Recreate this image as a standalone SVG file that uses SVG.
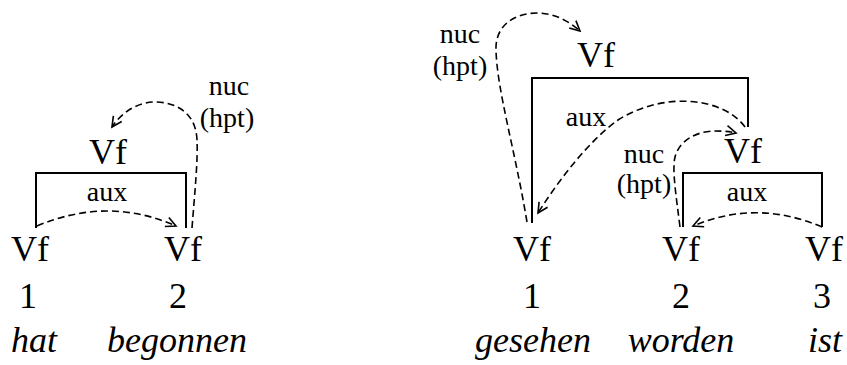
<svg xmlns="http://www.w3.org/2000/svg" width="847" height="365" viewBox="0 0 847 365">
<style>
text{font-family:"Liberation Serif","Times New Roman",serif;fill:#000;text-anchor:middle}
.big{font-size:36px}
.sm{font-size:28px}
.it{font-style:italic}
.br{fill:none;stroke:#000;stroke-width:2}
.dep{fill:none;stroke:#000;stroke-width:1.6;stroke-dasharray:7 4}
</style>
<defs>
<marker id="ah" markerUnits="userSpaceOnUse" viewBox="-12 -7 14 14" markerWidth="14" markerHeight="14" refX="0" refY="0" orient="auto">
<path d="M-10,-5 L0,0 L-10,5" fill="none" stroke="#000" stroke-width="1.6"/>
</marker>
</defs>
<rect width="847" height="365" fill="#fff"/>

<!-- left tree -->
<g id="L-vf-top">
<text class="big" x="108" y="164">Vf</text>
<path class="br" d="M36,228 V173 H186 V228"/>
</g>
<g id="L-w1">
<text class="big" x="30" y="261">Vf</text>
<text class="big" x="28" y="308">1</text>
<text class="big it" x="34" y="352">hat</text>
</g>
<g id="L-w2">
<text class="big" x="183" y="261">Vf</text>
<text class="big" x="178" y="308">2</text>
<text class="big it" x="177" y="352">begonnen</text>
</g>

<!-- right tree -->
<g id="R-vf-top">
<text class="big" x="596" y="67">Vf</text>
<path class="br" d="M532,223 V78 H748 V127"/>
</g>
<g id="R-vf-mid">
<text class="big" x="743" y="163">Vf</text>
<path class="br" d="M683,227 V173 H822 V227"/>
</g>
<g id="R-w1">
<text class="big" x="532" y="261">Vf</text>
<text class="big" x="532" y="308">1</text>
<text class="big it" x="533" y="352">gesehen</text>
</g>
<g id="R-w2">
<text class="big" x="681" y="261">Vf</text>
<text class="big" x="681" y="308">2</text>
<text class="big it" x="681" y="352">worden</text>
</g>
<g id="R-w3">
<text class="big" x="824" y="261">Vf</text>
<text class="big" x="822" y="308">3</text>
<text class="big it" x="825" y="352">ist</text>
</g>

<g id="connectors">
<path class="dep" d="M37,226 Q108,196 176,226" marker-end="url(#ah)"/>
<text class="sm" x="107" y="201">aux</text>
<path class="dep" d="M192,228 C195,190 198,160 197,140 C196,112 175,102 155,102 C138,102 122,112 112,127" marker-end="url(#ah)"/>
<text class="sm" x="229" y="95">nuc</text>
<text class="sm" x="227" y="127">(hpt)</text>

<path class="dep" d="M527,222 C515,150 497,90 496,50 C495,25 515,13 537,13 C555,13 570,22 580,31" marker-end="url(#ah)"/>
<text class="sm" x="460" y="43">nuc</text>
<text class="sm" x="460" y="75">(hpt)</text>
<path class="dep" d="M745,127 C722,96 662,92 618,120 C590,140 560,178 538,213" marker-end="url(#ah)"/>
<text class="sm" x="586" y="126">aux</text>
<path class="dep" d="M680,227 C676,195 672,170 675,157 C680,138 700,131 715,131 C725,131 732,132 736,133" marker-end="url(#ah)"/>
<text class="sm" x="644" y="163">nuc</text>
<text class="sm" x="644" y="193">(hpt)</text>
<path class="dep" d="M822,227 Q757,199 693,226" marker-end="url(#ah)"/>
<text class="sm" x="747" y="201">aux</text>
</g>
</svg>
